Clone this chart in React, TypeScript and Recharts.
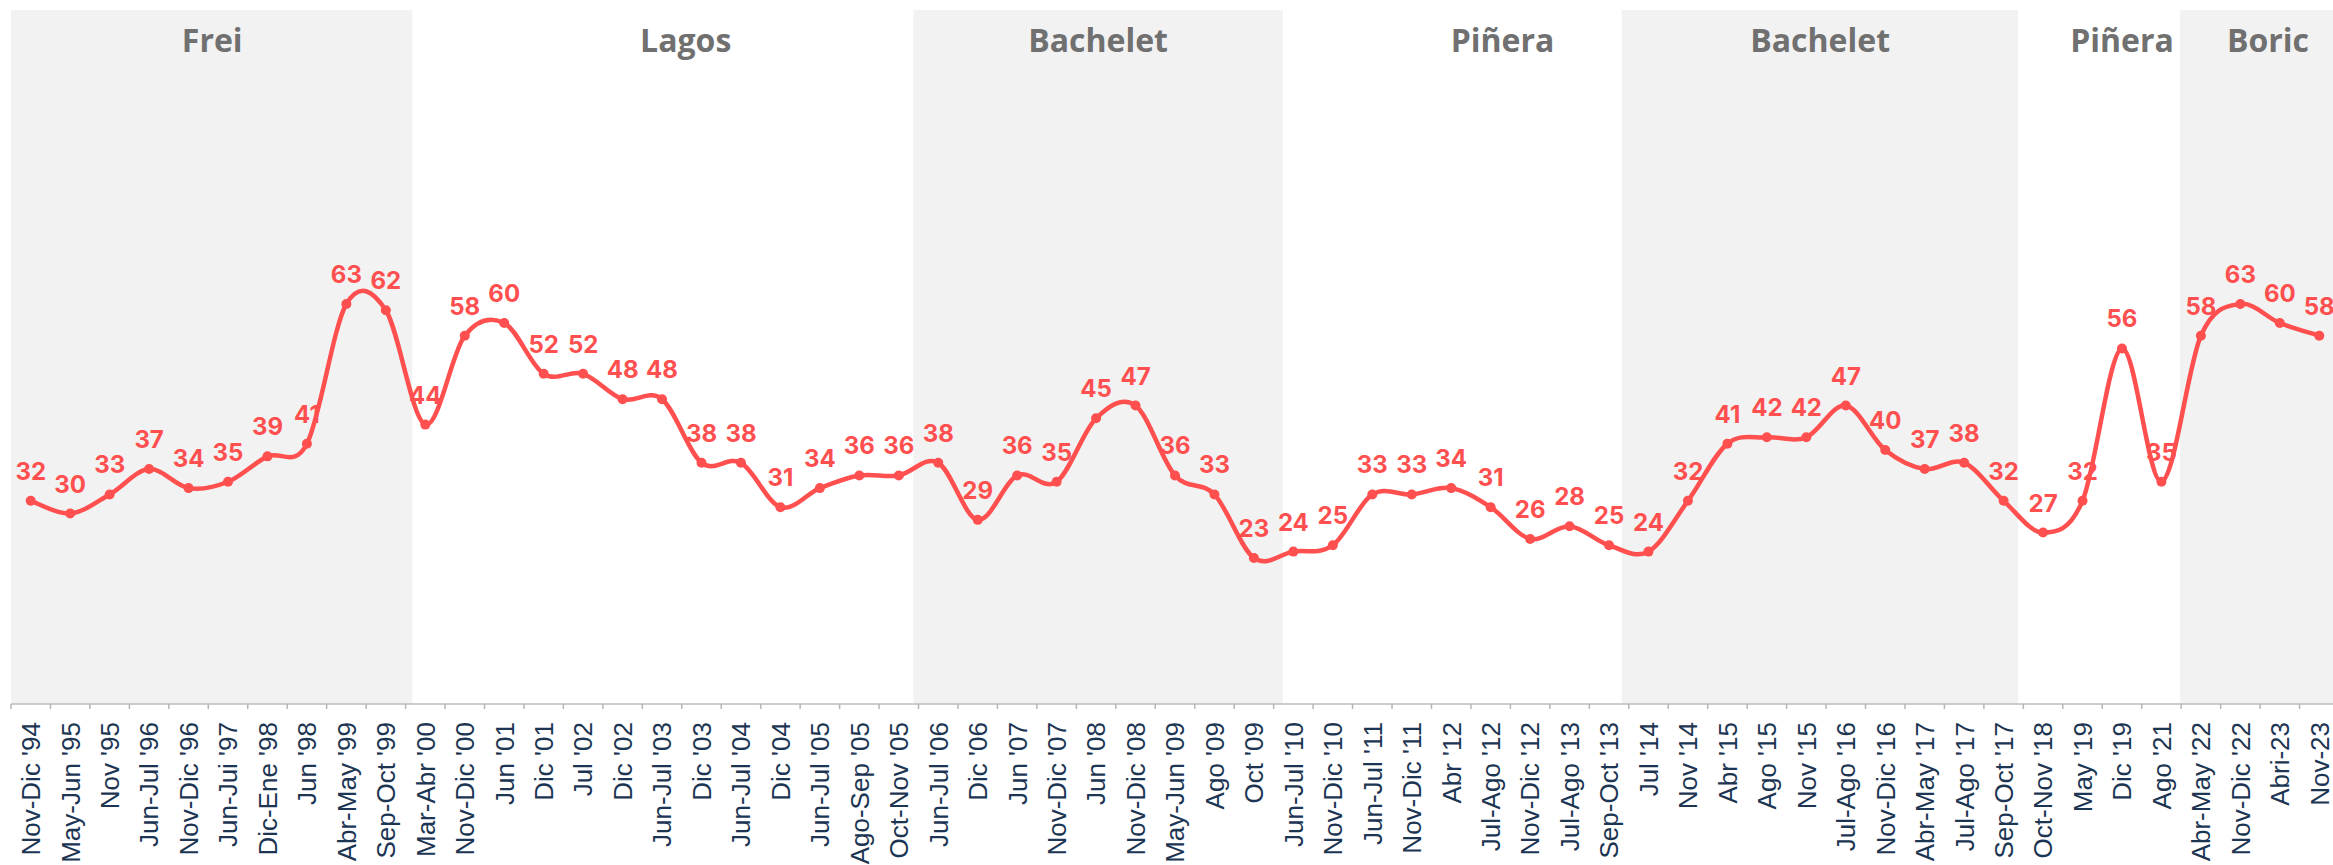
import React from "react";
import { LineChart, Line, XAxis, YAxis, ReferenceArea, ReferenceLine, LabelList } from "recharts";

// survey rounds (x categories)
const rounds = [
  "Nov-Dic '94", "May-Jun '95", "Nov '95", "Jun-Jul '96", "Nov-Dic '96", "Jun-Jui '97", "Dic-Ene '98",
  "Jun '98", "Abr-May '99", "Sep-Oct '99", "Mar-Abr '00", "Nov-Dic '00", "Jun '01", "Dic '01",
  "Jul '02", "Dic '02", "Jun-Jul '03", "Dic '03", "Jun-Jul '04", "Dic '04", "Jun-Jul '05",
  "Ago-Sep '05", "Oct-Nov '05", "Jun-Jul '06", "Dic '06", "Jun '07", "Nov-Dic '07", "Jun '08",
  "Nov-Dic '08", "May-Jun '09", "Ago '09", "Oct '09", "Jun-Jul '10", "Nov-Dic '10", "Jun-Jul '11",
  "Nov-Dic '11", "Abr '12", "Jul-Ago '12", "Nov-Dic '12", "Jul-Ago '13", "Sep-Oct '13", "Jul '14",
  "Nov '14", "Abr '15", "Ago '15", "Nov '15", "Jul-Ago '16", "Nov-Dic '16", "Abr-May '17",
  "Jul-Ago '17", "Sep-Oct '17", "Oct-Nov '18", "May '19", "Dic '19", "Ago '21", "Abr-May '22",
  "Nov-Dic '22", "Abri-23", "Nov-23",
];

const values = [
  32, 30, 33, 37, 34, 35, 39, 41, 63, 62, 44, 58, 60, 52, 52, 48, 48, 38, 38, 31, 34, 36, 36,
  38, 29, 36, 35, 45, 47, 36, 33, 23, 24, 25, 33, 33, 34, 31, 26, 28, 25, 24, 32, 41, 42, 42,
  47, 40, 37, 38, 32, 27, 32, 56, 35, 58, 63, 60, 58,
];

// presidential terms, in units of survey rounds
const termNames = ["Frei", "Lagos", "Bachelet", "Piñera", "Bachelet", "Piñera", "Boric"];
const termStart = [0, 10.17, 22.87, 32.23, 40.82, 50.87, 54.97];
const termEnd = [10.17, 22.87, 32.23, 40.82, 50.87, 54.97, 59];
const termShaded = [true, false, true, false, true, false, true];

// where each term name sits (round units)
const termLabelAt = [5.1, 17.1, 27.55, 37.8, 45.85, 53.5, 57.2];

// idx = middle of each round's slot, in round units
const data = rounds.map((r, i) => ({ round: r, idx: i + 0.5, value: values[i] }));

const RED = "#FF4F4F";
const CHART_W = 2339;
const LEFT = 11;
const BAND = (CHART_W - LEFT) / rounds.length;

// Excel-like smoothing (uniform Catmull-Rom)
function smoothCurve(context: any) {
  let xs: number[] = [];
  let ys: number[] = [];
  return {
    areaStart() {},
    areaEnd() {},
    lineStart() {
      xs = [];
      ys = [];
    },
    point(x: number, y: number) {
      xs.push(+x);
      ys.push(+y);
    },
    lineEnd() {
      const n = xs.length;
      if (!n) return;
      context.moveTo(xs[0], ys[0]);
      for (let i = 0; i < n - 1; i++) {
        const a = Math.max(i - 1, 0);
        const d = Math.min(i + 2, n - 1);
        context.bezierCurveTo(
          xs[i] + (xs[i + 1] - xs[a]) / 6,
          ys[i] + (ys[i + 1] - ys[a]) / 6,
          xs[i + 1] - (xs[d] - xs[i]) / 6,
          ys[i + 1] - (ys[d] - ys[i]) / 6,
          xs[i + 1],
          ys[i + 1]
        );
      }
    },
  };
}

const RoundTick = (props: any) => {
  const { x, y, payload } = props;
  const bx = x - BAND / 2;
  return (
    <g>
      <line x1={bx} y1={704} x2={bx} y2={709} stroke="#b5b5b5" strokeWidth={1.5} />
      <text
        x={x}
        y={y}
        dy="0.36em"
        transform={`rotate(-90, ${x}, ${y})`}
        textAnchor="end"
        fill="#1c3553"
        fontSize={26}
        fontFamily="'Liberation Sans', Arial, sans-serif"
      >
        {payload.value}
      </text>
    </g>
  );
};

export default function App() {
  return (
    <div
      style={{
        position: "absolute",
        left: 0,
        top: 0,
        width: 2333,
        height: 865,
        overflow: "hidden",
        background: "#fff",
      }}
    >
      <LineChart width={CHART_W} height={865} data={data} margin={{ top: 10, right: 0, bottom: 0, left: LEFT }}>
        <XAxis
          xAxisId="cat"
          dataKey="round"
          scale="band"
          interval={0}
          height={161}
          tickLine={false}
          tickSize={5}
          tickMargin={13}
          axisLine={{ stroke: "#bdbdbd", strokeWidth: 1.5 }}
          tick={<RoundTick />}
        />
        <XAxis
          xAxisId="term"
          dataKey="idx"
          type="number"
          domain={[0, rounds.length]}
          ticks={[0, rounds.length]}
          allowDataOverflow
          hide
        />
        <YAxis domain={[0, 109.3]} allowDataOverflow hide />
        {termNames.map((name, i) =>
          termShaded[i] ? (
            <ReferenceArea
              key={`area-${i}`}
              xAxisId="term"
              x1={termStart[i]}
              x2={termEnd[i]}
              fill="#f2f2f2"
              fillOpacity={1}
              stroke="none"
              ifOverflow="visible"
            />
          ) : null
        )}
        {termNames.map((name, i) => (
          <ReferenceLine
            key={`name-${i}`}
            xAxisId="term"
            x={termLabelAt[i]}
            stroke="none"
            label={{
              value: name,
              position: "insideTop",
              offset: 19,
              fill: "#707070",
              fontSize: 32,
              fontWeight: 700,
              fontFamily: "'Open Sans', sans-serif",
            }}
          />
        ))}
        <Line
          xAxisId="cat"
          dataKey="value"
          type={smoothCurve as any}
          stroke={RED}
          strokeWidth={4.5}
          dot={{ r: 5, fill: RED, stroke: "none" }}
          activeDot={false}
          isAnimationActive={false}
        >
          <LabelList
            dataKey="value"
            position="top"
            offset={21}
            fill={RED}
            fontSize={24}
            fontWeight={700}
            fontFamily="Inter, sans-serif"
          />
        </Line>
      </LineChart>
    </div>
  );
}
